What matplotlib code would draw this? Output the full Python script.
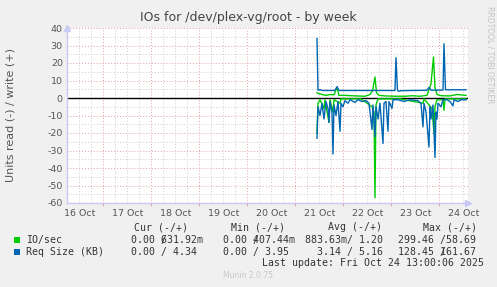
import matplotlib
matplotlib.use("Agg")
import matplotlib.pyplot as plt
from matplotlib.patches import Rectangle
import numpy as np

# ---------------- data (hours since 21 Oct 00:00) ----------------
req_write_t = [10.75, 11.25, 12.25, 13.25, 19.75, 20.75, 21.75, 49.75, 50.25, 51.0, 51.75, 52.75,
               65.75, 66.75, 67.75, 73.75, 74.25, 75.0, 85.25]
req_write_v = [34, 4.4, 4.8, 4.3, 4.3, 6.5, 4.3, 4.3, 23, 4.4, 3.8, 4.2,
               4.4, 6, 4.5, 4.5, 31, 4.7, 4.7]

io_write_t = [10.75, 11.75, 13.25, 15.25, 17.25, 19.25, 20.75, 21.75, 24.75, 29.75, 34.75, 37.25,
              38.5, 39.75, 40.5, 41.75, 44.75, 49.75, 54.75, 58.25, 62.25, 65.75, 67.75, 69.0,
              69.75, 70.75, 72.75, 77.25, 80.75, 85.25]
io_write_v = [3, 2.5, 2, 1.5, 2, 1.8, 6, 1.5, 1.5, 1.2, 1.0, 2,
              4, 12, 3, 1.5, 1.2, 1.0, 1.0, 1.3, 1.0, 1.5, 8, 23.5,
              6, 2, 1.3, 1.2, 2, 1.5]

req_read_t = [10.75, 11.25, 12.25, 13.25, 14.25, 15.25, 16.25, 16.75, 17.25, 18.25, 18.75, 19.25,
              20.25, 21.25, 22.25, 22.75, 23.75, 24.75, 26.25, 27.25, 29.75, 31.25, 33.25, 35.25,
              36.75, 38.25, 38.75, 39.75, 40.25, 41.25, 42.25, 43.75, 44.25, 45.25, 46.25, 46.75,
              48.25, 48.75, 51.25, 54.25, 57.25, 61.25, 62.75, 63.75, 64.25, 65.25, 66.75, 67.25,
              67.75, 68.75, 69.75, 70.25, 70.75, 71.25, 72.75, 73.75, 75.75, 77.25, 78.75, 79.25,
              81.25, 82.75, 85.25]
req_read_v = [-23, -5, -10, -3, -12, -2, -6, -14, -2, -8, -32, -4,
              -10, -2, -19, -3, -5, -1.5, -3, -1, -2.5, -1, -2, -1.5,
              -3, -18, -4, -22, -5, -12, -3, -26, -3, -2, -19, -2,
              -6, -1, -1, -2, -1, -1.5, -3, -16.5, -3, -8, -28, -5,
              -12, -4, -34, -8, -12, -3, -5, -1, -1, -2, -4.5, -1,
              -2, -1, -1]

io_read_t = [10.75, 11.25, 12.25, 14.25, 14.75, 16.75, 17.25, 18.75, 19.25, 22.25, 22.75, 32.75,
             38.25, 39.25, 39.75, 40.25, 41.25, 52.25, 63.75, 64.25, 68.25, 69.25, 69.75, 70.75,
             73.75, 74.25, 74.75, 85.25]
io_read_v = [-20, -3, -1, -6, -1, -14, -1, -8, -1, -3, -0.5, -0.5,
             -5, -8, -57, -4, -0.5, -0.5, -3, -0.5, -6, -20, -5, -1,
             -1, -7, -0.5, -0.5]

day_labels = ["16 Oct", "17 Oct", "18 Oct", "19 Oct", "20 Oct", "21 Oct", "22 Oct", "23 Oct", "24 Oct"]
y_ticks = [40, 30, 20, 10, 0, -10, -20, -30, -40, -50, -60]

legend_header = ["Cur (-/+)", "Min (-/+)", "Avg (-/+)", "Max (-/+)"]
series_names = ["IO/sec", "Req Size (KB)"]
series_colors = ["#00CC00", "#0066B3"]
last_update = "Last update: Fri Oct 24 13:00:06 2025"

# ---------------- figure ----------------
W, H = 497, 287
fig = plt.figure(figsize=(W / 100, H / 100), dpi=100, facecolor="#F0F0F0")


def fx(x):
    return x / W


def fy(y):
    return 1 - y / H


L, R, T, B = 67, 468, 28, 203
ax = fig.add_axes([fx(L), fy(B), (R - L) / W, (B - T) / H])
ax.set_facecolor("white")

DAY0 = 5.0  # 21 Oct is day 5 since 16 Oct 00:00


def to_days(hours):
    return DAY0 + np.asarray(hours, dtype=float) / 24.0


xmin, xmax = 0.2396, 8.594
ax.set_xlim(xmin, xmax)
ax.set_ylim(-60, 40)

# grid
ax.set_yticks(y_ticks)
ax.set_yticks(np.arange(-60, 41, 5), minor=True)
ax.set_xticks(np.arange(1, 9))
ax.set_xticks(np.arange(0.25, 8.6, 0.25), minor=True)
ax.grid(which="minor", color="#CCCCCC", linestyle=(0, (1, 2)), linewidth=0.7)
ax.grid(which="major", color="#E0A0A0", linestyle=(0, (1, 2)), linewidth=0.7)
ax.set_axisbelow(True)

ax.set_yticklabels([str(v) for v in y_ticks])
ax.tick_params(axis="y", which="both", length=0, labelsize=6.8, labelcolor="#555555", pad=3)
ax.tick_params(axis="x", which="major", length=2, color="#E0A0A0", labelbottom=False)
ax.tick_params(axis="x", which="minor", length=0, labelbottom=False)

for i, lab in enumerate(day_labels):
    ax.text(i + 0.5, -0.035, lab, transform=ax.get_xaxis_transform(), ha="center", va="top",
            fontsize=6.8, color="#555555")

for s in ["top", "right"]:
    ax.spines[s].set_visible(False)
for s in ["left", "bottom"]:
    ax.spines[s].set_color("#C8C8F5")
    ax.spines[s].set_linewidth(1.0)
ax.plot([0], [1.0], marker="^", markersize=4, color="#C8C8F5", transform=ax.transAxes,
        clip_on=False)
ax.plot([1.0], [0], marker=">", markersize=4, color="#C8C8F5", transform=ax.transAxes,
        clip_on=False)

# zero line
ax.axhline(0, color="black", linewidth=1.0, zorder=2)

# data
ax.plot(to_days(io_write_t), io_write_v, color=series_colors[0], lw=1.0, zorder=3)
ax.plot(to_days(io_read_t), io_read_v, color=series_colors[0], lw=1.0, zorder=3)
ax.plot(to_days(req_write_t), req_write_v, color=series_colors[1], lw=1.0, zorder=4)
ax.plot(to_days(req_read_t), req_read_v, color=series_colors[1], lw=1.0, zorder=4)

# texts
fig.text(fx(248), fy(17), "IOs for /dev/plex-vg/root - by week", ha="center", va="center",
         fontsize=9, color="#444444")
fig.text(fx(11), fy(115), "Units read (-) / write (+)", rotation=90, ha="center", va="center",
         fontsize=8, color="#555555")
fig.text(fx(490), fy(6), "RRDTOOL / TOBI OETIKER", rotation=270, ha="center", va="top",
         fontsize=5.5, color="#C4C4C4")
fig.text(fx(248), fy(276), "Munin 2.0.75", ha="center", va="center", fontsize=5.5,
         color="#C8C8C8")

MONO = dict(family="DejaVu Sans Mono", fontsize=7.13, color="#333333", va="center")
CW = 5.96


def mono(x, y, s, **kw):
    d = dict(MONO)
    d.update(kw)
    fig.text(fx(x), fy(y), s, ha="left", **d)


hx = [134, 231, 328, 423]
for x, h in zip(hx, legend_header):
    mono(x, 227, h)

rows_y = [240, 252]
for (name, col), y in zip(zip(series_names, series_colors), rows_y):
    fig.patches.append(Rectangle((fx(14), fy(y + 3)), 6 / W, 6 / H, transform=fig.transFigure,
                                 facecolor=col, edgecolor="none"))
    mono(26, y, name)

# row 1 values (some slashes overlap the following digit, as in the original)
mono(131, 240, "0.00 631.92m")
mono(131 + 5 * CW, 240, "/")
mono(223, 240, "0.00 407.44m")
mono(223 + 5 * CW, 240, "/")
mono(305, 240, "883.63m/ 1.20")
mono(398, 240, "299.46 /58.69")
# row 2
mono(131, 252, "0.00 / 4.34")
mono(223, 252, "0.00 / 3.95")
mono(317, 252, "3.14 / 5.16")
mono(398, 252, "128.45 161.67")
mono(398 + 7 * CW, 252, "/")

mono(262, 263.5, last_update)

fig.savefig("out.png", dpi=100, facecolor=fig.get_facecolor())
